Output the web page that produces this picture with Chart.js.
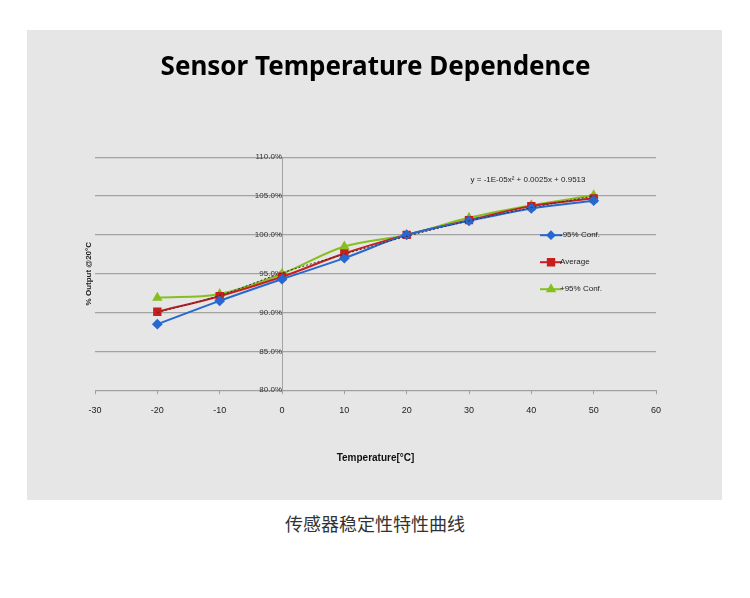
<!DOCTYPE html>
<html>
<head>
<meta charset="utf-8">
<script src="https://cdn.jsdelivr.net/npm/chart.js@4"></script>
<style>
  body { margin: 0; background: #fff; }
  #panel { position: absolute; left: 27px; top: 30px; width: 695px; height: 470px; background: #e6e6e6; }
  #caption { position: absolute; left: 0; top: 510px; width: 750px; text-align: center;
             font-family: "Noto Sans CJK SC", sans-serif; font-size: 18px; color: #333; }
</style>
</head>
<body>
<div id="panel"><canvas id="grafico" width="695" height="470"></canvas></div>
<div id="caption">传感器稳定性特性曲线</div>
<script>
// temperaturas e valores (% output @20°C)
var temperaturas = [-20, -10, 0, 10, 20, 30, 40, 50];
var confMenos    = [88.5, 91.5, 94.3, 97.0, 100.0, 101.8, 103.4, 104.4];
var media        = [90.1, 92.1, 94.6, 97.6, 100.0, 101.9, 103.7, 104.7];
var confMais     = [91.9, 92.4, 95.0, 98.5, 100.0, 102.2, 103.8, 105.1];
var tendencia    = [90.0, 92.2, 95.1, 97.5, 99.8, 101.8, 103.5, 105.0];
var nomesSeries  = ["-95% Conf.", "Average", "+95% Conf."];
var equacao      = "y = -1E-05x\u00b2 + 0.0025x + 0.9513";
var ticksY       = [80, 85, 90, 95, 100, 105, 110];
var ticksX       = [-30, -20, -10, 0, 10, 20, 30, 40, 50, 60];

function pontos(valores) {
  return temperaturas.map(function(t, i) { return { x: t, y: valores[i] }; });
}

var cores = ["#2768d0", "#c81e1e", "#86bf1e"];

// legenda, equacao e titulo do eixo y desenhados a mao
var extras = {
  id: "extras",
  afterDraw: function(chart) {
    var ctx = chart.ctx;
    var area = chart.chartArea;
    ctx.save();
    // equacao da linha de tendencia
    ctx.fillStyle = "#222";
    ctx.font = "8px 'Liberation Sans Narrow', 'Liberation Sans', sans-serif";
    ctx.textAlign = "center";
    ctx.textBaseline = "middle";
    ctx.fillText(equacao, area.left + 433, area.top + 23);

    // legenda
    var estilos = ["rectRot", "rect", "triangle"];
    var raios = [3.5, 4.5, 4];
    for (var i = 0; i < 3; i++) {
      var y = area.top + 78 + i * 27;
      var x0 = area.left + 445;
      ctx.strokeStyle = cores[i];
      ctx.lineWidth = 2;
      ctx.beginPath();
      ctx.moveTo(x0, y);
      ctx.lineTo(x0 + 22, y);
      ctx.stroke();
      ctx.fillStyle = cores[i];
      Chart.helpers.drawPoint(ctx, { pointStyle: estilos[i], radius: raios[i], borderWidth: 1 }, x0 + 11, y);
      ctx.fillStyle = "#222";
      ctx.textAlign = "left";
      ctx.font = "8px 'Liberation Sans Narrow', 'Liberation Sans', sans-serif";
      ctx.fillText(nomesSeries[i], x0 + 20, y);
    }

    // titulo do eixo y
    ctx.translate(62, (area.top + area.bottom) / 2);
    ctx.rotate(-Math.PI / 2);
    ctx.textAlign = "center";
    ctx.font = "bold 8px 'Liberation Sans', sans-serif";
    ctx.fillText("% Output @20\u00b0C", 0, 0);
    ctx.restore();
  }
};

function serie(label, valores, cor, estilo, raio) {
  return {
    label: label,
    data: pontos(valores),
    borderColor: cor,
    backgroundColor: cor,
    borderWidth: 2,
    pointStyle: estilo,
    pointRadius: raio,
    tension: 0.35
  };
}

var ctx = document.getElementById("grafico").getContext("2d");
new Chart(ctx, {
  type: "line",
  data: {
    datasets: [
      { label: "trend", data: pontos(tendencia), borderColor: "#333", borderWidth: 1,
        borderDash: [2, 2], pointRadius: 0, tension: 0.35 },
      serie(nomesSeries[0], confMenos, cores[0], "rectRot", 4),
      serie(nomesSeries[1], media, cores[1], "rect", 4.5),
      serie(nomesSeries[2], confMais, cores[2], "triangle", 4)
    ]
  },
  options: {
    responsive: false,
    animation: false,
    layout: { padding: { left: 68, right: 66, top: 0, bottom: 36 } },
    plugins: {
      legend: { display: false },
      tooltip: { enabled: false },
      title: {
        display: true,
        text: "Sensor Temperature Dependence",
        color: "#000",
        font: { family: "'Noto Sans', sans-serif", size: 26, weight: "bold" },
        padding: { top: 22, bottom: 74 }
      }
    },
    scales: {
      x: {
        type: "linear",
        min: -30, max: 60,
        afterBuildTicks: function(s) { s.ticks = ticksX.map(function(v) { return { value: v }; }); },
        grid: { drawOnChartArea: false, drawTicks: true, tickLength: 4, color: "#a0a0a0" },
        border: { color: "#a0a0a0", width: 1 },
        ticks: { color: "#222", padding: 11, font: { family: "'Liberation Sans', sans-serif", size: 9 } },
        title: {
          display: true,
          text: "Temperature[\u00b0C]",
          color: "#111",
          font: { family: "'Liberation Sans', sans-serif", size: 10, weight: "bold" },
          padding: { top: 25, bottom: 0 }
        }
      },
      y: {
        type: "linear",
        position: { x: 0 },
        min: 80, max: 110,
        afterBuildTicks: function(s) { s.ticks = ticksY.map(function(v) { return { value: v }; }); },
        grid: { color: "#a3a3a3", lineWidth: 1.2, drawTicks: false },
        border: { color: "#a3a3a3", width: 1 },
        ticks: {
          color: "#333",
          padding: 5,
          font: { family: "'Liberation Sans Narrow', 'Liberation Sans', sans-serif", size: 8 },
          callback: function(v) { return v.toFixed(1) + "%"; }
        }
      }
    }
  },
  plugins: [extras]
});
</script>
</body>
</html>
